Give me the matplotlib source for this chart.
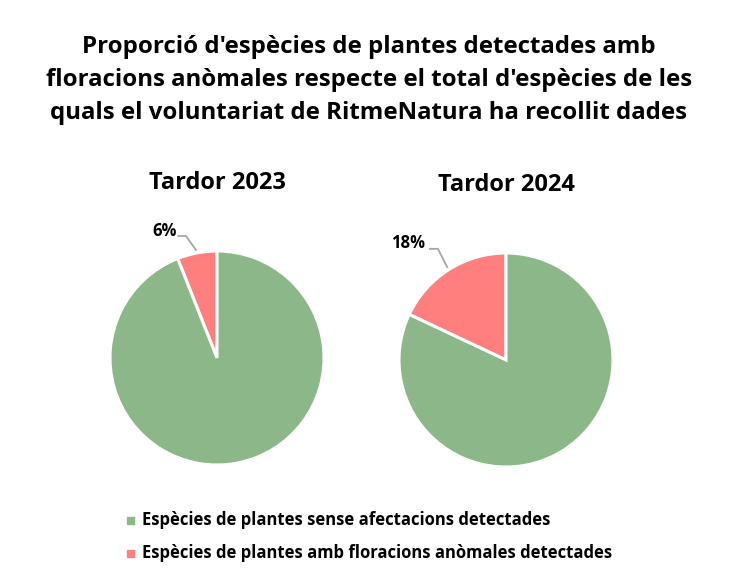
import numpy as np
import matplotlib
matplotlib.use("Agg")
import matplotlib.pyplot as plt

plt.rcParams['font.family'] = ['Open Sans', 'DejaVu Sans']

title = ("Proporció d'espècies de plantes detectades amb\n"
         "floracions anòmales respecte el total d'espècies de les\n"
         "quals el voluntariat de RitmeNatura ha recollit dades")
periods = ["Tardor 2023", "Tardor 2024"]
categories = ["Espècies de plantes sense afectacions detectades",
              "Espècies de plantes amb floracions anòmales detectades"]
anomalous_pct = [6, 18]
unaffected_pct = [94, 82]
colors = ["#8CB788", "#FF7F7F"]

W, H = 738, 579
fig = plt.figure(figsize=(W / 100, H / 100), dpi=100)

fig.text(369 / W, 1 - 80 / H, title, ha='center', va='center',
         fontsize=17.3, fontweight='bold', linespacing=1.5)

centers = [(217, 358), (506, 360)]
title_y = [183, 185]
# label offsets (in pie radius units)
label_text_pos = [(-0.49, 1.19), (-0.915, 1.095)]
elbow = [(-0.29, 1.14), (-0.636, 1.039)]
line_end = [(-0.37, 1.14), (-0.72, 1.039)]

R = 107
half = 160
for i, (cx, cy) in enumerate(centers):
    ax = fig.add_axes([(cx - half) / W, 1 - (cy + half) / H, 2 * half / W, 2 * half / H])
    lim = half / R
    vals = [anomalous_pct[i], unaffected_pct[i]]
    wedges, _ = ax.pie(vals, colors=[colors[1], colors[0]], startangle=90,
                       counterclock=True, radius=1,
                       wedgeprops=dict(edgecolor='white', linewidth=2.2))
    ax.set_xlim(-lim, lim)
    ax.set_ylim(-lim, lim)
    ax.set_aspect('equal')
    ax.axis('off')
    w = wedges[0]
    mid = np.deg2rad((w.theta1 + w.theta2) / 2)
    ex, ey = np.cos(mid) * 1.02, np.sin(mid) * 1.02
    ax.plot([line_end[i][0], elbow[i][0], ex], [line_end[i][1], elbow[i][1], ey],
            color='#A6A6A6', lw=1.3, solid_capstyle='butt')
    ax.text(label_text_pos[i][0], label_text_pos[i][1], f"{anomalous_pct[i]}%",
            ha='center', va='center', fontsize=12, fontweight='bold')
    fig.text(cx / W, 1 - title_y[i] / H, periods[i], ha='center', va='center',
             fontsize=17, fontweight='bold')

legend_y = [520, 553]
for j, cat in enumerate(categories):
    fig.patches.append(plt.Rectangle((127 / W, 1 - (legend_y[j] + 3.5) / H), 7 / W, 7 / H,
                                     transform=fig.transFigure, color=colors[j]))
    fig.text(142 / W, 1 - legend_y[j] / H, cat, ha='left', va='center',
             fontsize=12, fontweight='bold')

fig.savefig("out.png", dpi=100, facecolor='white')
